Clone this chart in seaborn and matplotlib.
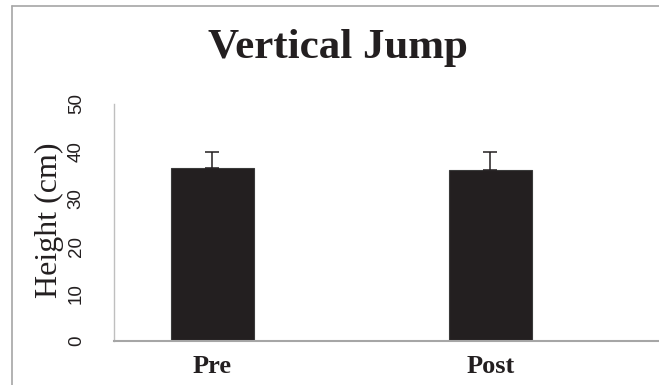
import pandas as pd
import matplotlib.pyplot as plt
import seaborn as sns
from matplotlib.lines import Line2D

# values
phases = ['Pre', 'Post']
height_cm = [36.4, 36.0]
sd_cm = [3.4, 3.8]

df = pd.DataFrame({'phase': phases, 'height': height_cm})

sns.set_style('white')
plt.rcParams['font.family'] = ['Liberation Serif', 'DejaVu Serif']

fig = plt.figure(figsize=(6.59, 3.85), dpi=100)
ax = fig.add_axes([114 / 659, 44 / 385, 545 / 659, 237 / 385])

sns.barplot(data=df, x='phase', y='height', color='#231F20', width=0.3,
            saturation=1, errorbar=None, edgecolor='#3a3a3a', linewidth=0.8, ax=ax)

# upper error bars only
ax.errorbar(x=range(len(phases)), y=height_cm, yerr=[[0] * len(sd_cm), sd_cm],
            fmt='none', ecolor='#231F20', elinewidth=1.1, capsize=5, capthick=1.1, zorder=3)

ax.set_ylim(0, 50)
ax.set_xlim(-0.354, 1.606)
ax.set_yticks([0, 10, 20, 30, 40, 50])

# title sits over the whole chart area, not just the axes
fig.text(338 / 659, 1 - 48 / 385, 'Vertical Jump', fontsize=31, fontweight='bold',
         color='#231F20', ha='center', va='center')
ax.set_xlabel('')
ax.set_ylabel('Height (cm)', fontsize=23, color='#231F20')
ax.yaxis.label.set_va('center')
ax.yaxis.set_label_coords(-0.118, 0.51)

for lab in ax.get_yticklabels():
    lab.set_rotation(90)
    lab.set_va('center')
    lab.set_family(['Liberation Sans', 'DejaVu Sans'])
    lab.set_fontsize(13.5)
    lab.set_color('#231F20')
ax.tick_params(axis='y', length=0, pad=21)
ax.tick_params(axis='x', length=0, pad=10)
for lab in ax.get_xticklabels():
    lab.set_fontsize(19)
    lab.set_fontweight('bold')
    lab.set_color('#231F20')

for s in ['top', 'right']:
    ax.spines[s].set_visible(False)
ax.spines['left'].set_color('#BFBFBF')
ax.spines['left'].set_linewidth(1)
ax.spines['bottom'].set_color('#A6A6A6')
ax.spines['bottom'].set_linewidth(1.5)

# chart frame (cropped on right and bottom)
fx = 12 / 659
fy = 1 - 6 / 385
fig.add_artist(Line2D([fx, fx], [0, fy], color='#A6A6A6', lw=1.2))
fig.add_artist(Line2D([fx, 1], [fy, fy], color='#A6A6A6', lw=1.2))

fig.savefig('out.png', dpi=100)
